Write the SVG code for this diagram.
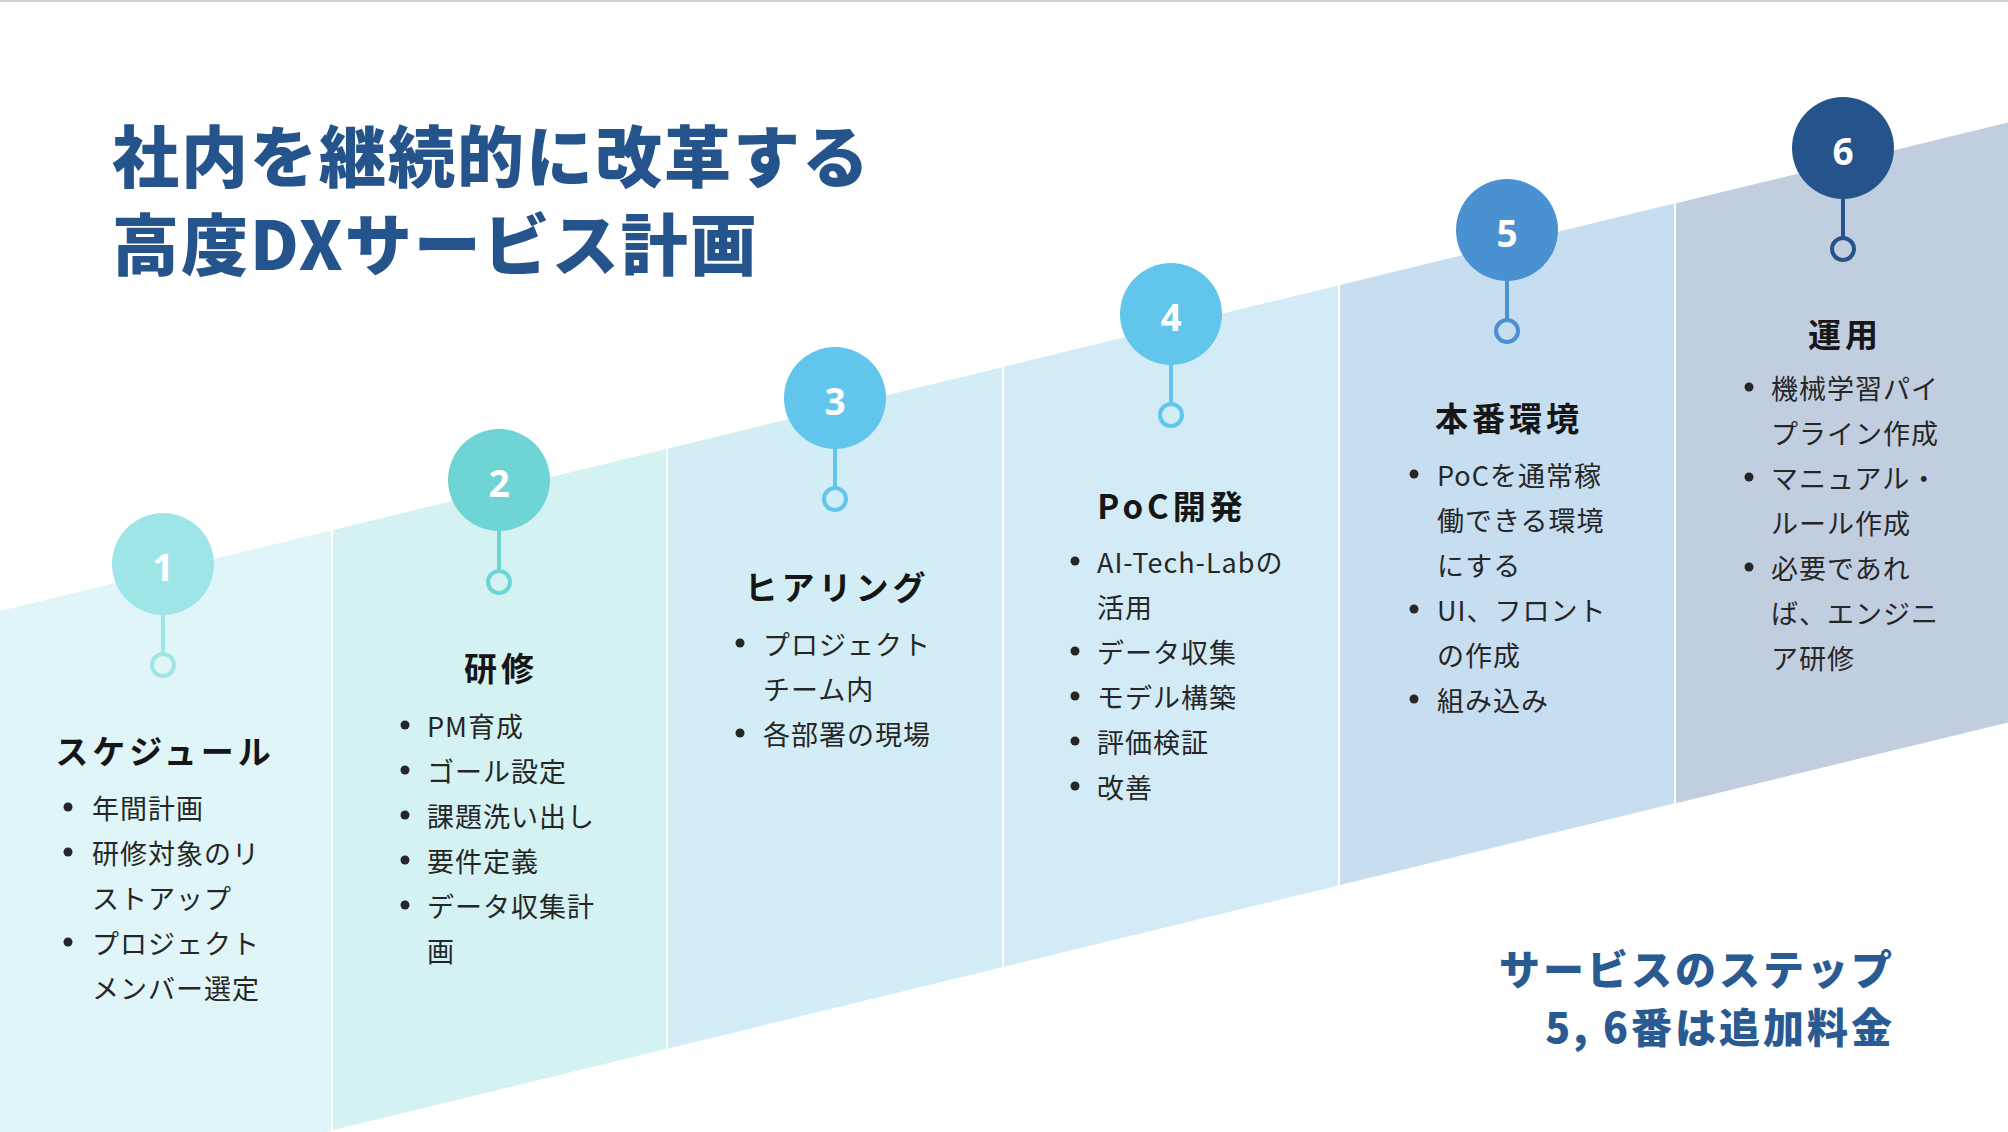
<svg xmlns="http://www.w3.org/2000/svg" width="2008" height="1132" viewBox="0 0 2008 1132">
<style>
text{font-family:"Noto Sans CJK JP","Noto Sans",sans-serif;dominant-baseline:central}
.main{font-size:67px;font-weight:900;fill:#24548b;letter-spacing:2px}
.note{font-size:41px;font-weight:900;fill:#2a5a92;letter-spacing:3px;text-anchor:end}
.ttl{font-size:33px;font-weight:700;fill:#161616;letter-spacing:4px;text-anchor:middle}
.b{font-size:27px;font-weight:400;fill:#262626;letter-spacing:1px}
.num{font-family:"Noto Sans","Open Sans",sans-serif;font-size:37px;font-weight:700;fill:#ffffff;text-anchor:middle}
.dot{fill:#262626}
.ring{fill:none;stroke-width:4}
.stem{stroke-width:4}
</style>
<rect x="0" y="0" width="2008" height="1132" fill="#ffffff"/>
<rect x="0" y="0" width="2008" height="2" fill="#cfcfcf"/>

<g id="title">
<text class="main" x="112" y="152">社内を継続的に改革する</text>
<text class="main" x="112" y="240">高度DXサービス計画</text>
</g>

<g id="note">
<text class="note" x="1895" y="967">サービスのステップ</text>
<text class="note" x="1895" y="1025">5, 6番は追加料金</text>
</g>

<g id="step1">
<polygon points="0,611 331,530.5 331,1130.5 0,1211" fill="#e0f5f7"/>
<circle cx="163" cy="564" r="51" fill="#9ee5e8"/>
<text class="num" x="163" y="566">1</text>
<circle class="ring" cx="163" cy="665" r="11" stroke="#9ee5e8"/>
<text class="ttl" x="165" y="750">スケジュール</text>
<circle class="dot" cx="68" cy="807" r="4.5"/><text class="b" x="92" y="807">年間計画</text>
<circle class="dot" cx="68" cy="852" r="4.5"/><text class="b" x="92" y="852">研修対象のリ</text>
<text class="b" x="92" y="897">ストアップ</text>
<circle class="dot" cx="68" cy="942" r="4.5"/><text class="b" x="92" y="942">プロジェクト</text>
<text class="b" x="92" y="987">メンバー選定</text>
</g>

<g id="step2">
<polygon points="333,530 666,449 666,1049 333,1130" fill="#d4f2f2"/>
<circle cx="499" cy="480" r="51" fill="#6fd4d6"/>
<text class="num" x="499" y="482">2</text>
<circle class="ring" cx="499" cy="582" r="11" stroke="#6fd4d6"/>
<text class="ttl" x="501" y="667">研修</text>
<circle class="dot" cx="405" cy="725" r="4.5"/><text class="b" x="427" y="725">PM育成</text>
<circle class="dot" cx="405" cy="770" r="4.5"/><text class="b" x="427" y="770">ゴール設定</text>
<circle class="dot" cx="405" cy="815" r="4.5"/><text class="b" x="427" y="815">課題洗い出し</text>
<circle class="dot" cx="405" cy="860" r="4.5"/><text class="b" x="427" y="860">要件定義</text>
<circle class="dot" cx="405" cy="905" r="4.5"/><text class="b" x="427" y="905">データ収集計</text>
<text class="b" x="427" y="950">画</text>
</g>

<g id="step3">
<polygon points="668,448.5 1002,367.2 1002,967.2 668,1048.5" fill="#d3edf7"/>
<circle cx="835" cy="398" r="51" fill="#62c5eb"/>
<text class="num" x="835" y="400">3</text>
<circle class="ring" cx="835" cy="499" r="11" stroke="#62c5eb"/>
<text class="ttl" x="837" y="586">ヒアリング</text>
<circle class="dot" cx="740" cy="643" r="4.5"/><text class="b" x="763" y="643">プロジェクト</text>
<text class="b" x="763" y="688">チーム内</text>
<circle class="dot" cx="740" cy="733" r="4.5"/><text class="b" x="763" y="733">各部署の現場</text>
</g>

<g id="step4">
<polygon points="1004,366.7 1338,285.4 1338,885.4 1004,966.7" fill="#d2ebf7"/>
<circle cx="1171" cy="314" r="51" fill="#62c5eb"/>
<text class="num" x="1171" y="316">4</text>
<circle class="ring" cx="1171" cy="415" r="11" stroke="#62c5eb"/>
<text class="ttl" x="1172" y="505">PoC開発</text>
<circle class="dot" cx="1075" cy="561" r="4.5"/><text class="b" x="1097" y="561">AI-Tech-Labの</text>
<text class="b" x="1097" y="606">活用</text>
<circle class="dot" cx="1075" cy="651" r="4.5"/><text class="b" x="1097" y="651">データ収集</text>
<circle class="dot" cx="1075" cy="696" r="4.5"/><text class="b" x="1097" y="696">モデル構築</text>
<circle class="dot" cx="1075" cy="741" r="4.5"/><text class="b" x="1097" y="741">評価検証</text>
<circle class="dot" cx="1075" cy="786" r="4.5"/><text class="b" x="1097" y="786">改善</text>
</g>

<g id="step5">
<polygon points="1340,284.9 1674,203.6 1674,803.6 1340,884.9" fill="#c7ddf0"/>
<circle cx="1507" cy="230" r="51" fill="#4a91d2"/>
<text class="num" x="1507" y="232">5</text>
<circle class="ring" cx="1507" cy="331" r="11" stroke="#4a91d2"/>
<text class="ttl" x="1509" y="417">本番環境</text>
<circle class="dot" cx="1414" cy="474" r="4.5"/><text class="b" x="1437" y="474">PoCを通常稼</text>
<text class="b" x="1437" y="519">働できる環境</text>
<text class="b" x="1437" y="564">にする</text>
<circle class="dot" cx="1414" cy="609" r="4.5"/><text class="b" x="1437" y="609">UI、フロント</text>
<text class="b" x="1437" y="654">の作成</text>
<circle class="dot" cx="1414" cy="699" r="4.5"/><text class="b" x="1437" y="699">組み込み</text>
</g>

<g id="step6">
<polygon points="1676,203.2 2008,122.4 2008,722.4 1676,803.2" fill="#c1cee0"/>
<circle cx="1843" cy="148" r="51" fill="#24548b"/>
<text class="num" x="1843" y="150">6</text>
<circle class="ring" cx="1843" cy="249" r="11" stroke="#24548b"/>
<text class="ttl" x="1845" y="333">運用</text>
<circle class="dot" cx="1749" cy="387" r="4.5"/><text class="b" x="1771" y="387">機械学習パイ</text>
<text class="b" x="1771" y="432">プライン作成</text>
<circle class="dot" cx="1749" cy="477" r="4.5"/><text class="b" x="1771" y="477">マニュアル・</text>
<text class="b" x="1771" y="522">ルール作成</text>
<circle class="dot" cx="1749" cy="567" r="4.5"/><text class="b" x="1771" y="567">必要であれ</text>
<text class="b" x="1771" y="612">ば、エンジニ</text>
<text class="b" x="1771" y="657">ア研修</text>
</g>

<g id="connectors">
<line class="stem" x1="163" y1="614" x2="163" y2="654" stroke="#9ee5e8"/>
<line class="stem" x1="499" y1="531" x2="499" y2="571" stroke="#6fd4d6"/>
<line class="stem" x1="835" y1="449" x2="835" y2="488" stroke="#62c5eb"/>
<line class="stem" x1="1171" y1="365" x2="1171" y2="404" stroke="#62c5eb"/>
<line class="stem" x1="1507" y1="281" x2="1507" y2="320" stroke="#4a91d2"/>
<line class="stem" x1="1843" y1="199" x2="1843" y2="238" stroke="#24548b"/>
</g>
</svg>
